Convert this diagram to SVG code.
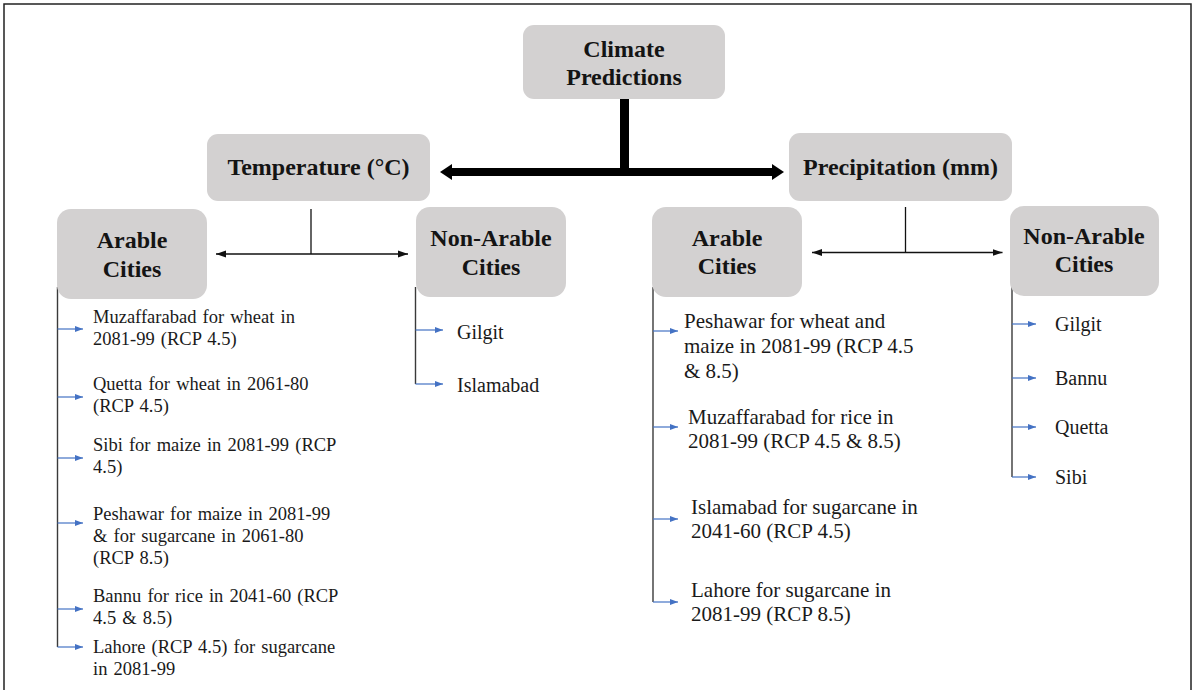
<svg xmlns="http://www.w3.org/2000/svg" width="1196" height="690" viewBox="0 0 1196 690">
  <style>
    .box { fill: #d3d1d1; }
    .head { font-family: "Liberation Serif", "Times New Roman", serif; font-weight: bold; font-size: 24px; fill: #141414; text-anchor: middle; }
    .item { font-family: "Liberation Serif", "Times New Roman", serif; fill: #1a1a1a; }
    .s18 { font-size: 18.5px; word-spacing: 1.5px; }
    .s20 { font-size: 20px; }
    .s21 { font-size: 21px; }
    .thin { stroke: #111; stroke-width: 1.3; fill: none; }
    .rail { stroke: #3a3a3a; stroke-width: 1.4; fill: none; }
    .bullet { stroke: #4472c4; stroke-width: 1.2; fill: none; marker-end: url(#blueHead); }
  </style>
  <defs>
    <marker id="blueHead" markerUnits="userSpaceOnUse" markerWidth="8" markerHeight="8" viewBox="0 0 8 8" refX="8" refY="4" orient="auto">
      <path d="M0,1 L8,4 L0,7 z" fill="#4472c4"/>
    </marker>
    <marker id="blackHead" markerUnits="userSpaceOnUse" markerWidth="10" markerHeight="8" viewBox="0 0 10 8" refX="10" refY="4" orient="auto-start-reverse">
      <path d="M0,0.5 L10,4 L0,7.5 z" fill="#111"/>
    </marker>
  </defs>

  <!-- frame -->
  <rect x="4" y="4" width="1187" height="720" fill="none" stroke="#222" stroke-width="1.5"/>

  <!-- connectors -->
  <g id="connectors">
    <!-- main split -->
    <rect x="620" y="99" width="9" height="77" fill="#000"/>
    <rect x="450" y="168" width="326" height="8" fill="#000"/>
    <polygon points="440,172 452,164 452,180" fill="#000"/>
    <polygon points="784,172 772,164 772,180" fill="#000"/>

    <!-- temperature branch -->
    <path class="thin" d="M311,209 V254"/>
    <path class="thin" d="M216,254 H408" marker-start="url(#blackHead)" marker-end="url(#blackHead)"/>

    <!-- precipitation branch -->
    <path class="thin" d="M905.5,207 V252.5"/>
    <path class="thin" d="M812,252.5 H1002.5" marker-start="url(#blackHead)" marker-end="url(#blackHead)"/>

    <!-- list rails -->
    <path class="rail" d="M57.5,287 V647"/>
    <path class="rail" d="M415.5,287 V384"/>
    <path class="rail" d="M653,287 V602"/>
    <path class="rail" d="M1012,287 V477"/>

    <!-- list bullets: temperature / arable -->
    <path class="bullet" d="M57.5,329 H83"/>
    <path class="bullet" d="M57.5,397 H83"/>
    <path class="bullet" d="M57.5,458 H83"/>
    <path class="bullet" d="M57.5,523 H83"/>
    <path class="bullet" d="M57.5,609 H83"/>
    <path class="bullet" d="M57.5,647 H83"/>
    <!-- temperature / non-arable -->
    <path class="bullet" d="M415.5,330 H443"/>
    <path class="bullet" d="M415.5,384 H443"/>
    <!-- precipitation / arable -->
    <path class="bullet" d="M653,331 H678"/>
    <path class="bullet" d="M653,427 H678"/>
    <path class="bullet" d="M653,519 H678"/>
    <path class="bullet" d="M653,602 H678"/>
    <!-- precipitation / non-arable -->
    <path class="bullet" d="M1012,324 H1036"/>
    <path class="bullet" d="M1012,378 H1036"/>
    <path class="bullet" d="M1012,427 H1036"/>
    <path class="bullet" d="M1012,477 H1036"/>
  </g>

  <g id="climate-predictions">
    <rect class="box" x="523" y="25" width="202" height="74" rx="11"/>
    <text class="head" x="624" y="57">Climate</text>
    <text class="head" x="624" y="85">Predictions</text>
  </g>

  <g id="temperature">
    <rect class="box" x="207" y="134" width="223" height="67" rx="11"/>
    <text class="head" x="318.5" y="175">Temperature (°C)</text>
  </g>

  <g id="precipitation">
    <rect class="box" x="789" y="133" width="223" height="68" rx="11"/>
    <text class="head" x="900.5" y="175">Precipitation (mm)</text>
  </g>

  <g id="temp-arable">
    <rect class="box" x="57" y="209" width="150" height="90" rx="14"/>
    <text class="head" x="132" y="248">Arable</text>
    <text class="head" x="132" y="277">Cities</text>
  </g>

  <g id="temp-non-arable">
    <rect class="box" x="416" y="207" width="150" height="90" rx="14"/>
    <text class="head" x="491" y="246">Non-Arable</text>
    <text class="head" x="491" y="275">Cities</text>
  </g>

  <g id="precip-arable">
    <rect class="box" x="652" y="207" width="150" height="90" rx="14"/>
    <text class="head" x="727" y="246">Arable</text>
    <text class="head" x="727" y="274">Cities</text>
  </g>

  <g id="precip-non-arable">
    <rect class="box" x="1010" y="206" width="149" height="90" rx="14"/>
    <text class="head" x="1084" y="244">Non-Arable</text>
    <text class="head" x="1084" y="272">Cities</text>
  </g>

  <g id="temp-arable-list" class="item s18">
    <text x="93" y="323">Muzaffarabad for wheat in</text>
    <text x="93" y="345">2081-99 (RCP 4.5)</text>
    <text x="93" y="390">Quetta for wheat in 2061-80</text>
    <text x="93" y="412">(RCP 4.5)</text>
    <text x="93" y="451">Sibi for maize in 2081-99 (RCP</text>
    <text x="93" y="473">4.5)</text>
    <text x="93" y="520">Peshawar for maize in 2081-99</text>
    <text x="93" y="542">&amp; for sugarcane in 2061-80</text>
    <text x="93" y="564">(RCP 8.5)</text>
    <text x="93" y="602">Bannu for rice in 2041-60 (RCP</text>
    <text x="93" y="624">4.5 &amp; 8.5)</text>
    <text x="93" y="653">Lahore (RCP 4.5) for sugarcane</text>
    <text x="93" y="675">in 2081-99</text>
  </g>

  <g id="temp-non-arable-list" class="item s20">
    <text x="457" y="339">Gilgit</text>
    <text x="457" y="392">Islamabad</text>
  </g>

  <g id="precip-arable-list" class="item s21">
    <text x="684" y="328">Peshawar for wheat and</text>
    <text x="684" y="353">maize in 2081-99 (RCP 4.5</text>
    <text x="684" y="378">&amp; 8.5)</text>
    <text x="688" y="424">Muzaffarabad for rice in</text>
    <text x="688" y="448">2081-99 (RCP 4.5 &amp; 8.5)</text>
    <text x="691" y="514">Islamabad for sugarcane in</text>
    <text x="691" y="538">2041-60 (RCP 4.5)</text>
    <text x="691" y="597">Lahore for sugarcane in</text>
    <text x="691" y="621">2081-99 (RCP 8.5)</text>
  </g>

  <g id="precip-non-arable-list" class="item s20">
    <text x="1055" y="331">Gilgit</text>
    <text x="1055" y="385">Bannu</text>
    <text x="1055" y="434">Quetta</text>
    <text x="1055" y="484">Sibi</text>
  </g>
</svg>
